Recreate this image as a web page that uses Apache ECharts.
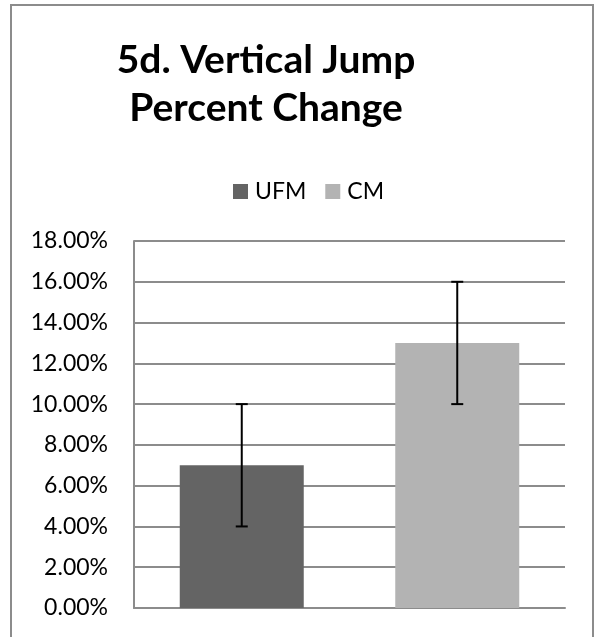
<!DOCTYPE html>
<html>
<head>
<meta charset="utf-8">
<script src="https://cdn.jsdelivr.net/npm/echarts@6/dist/echarts.min.js"></script>
<style>
html,body{margin:0;padding:0;background:#fff;}
#c{width:595px;height:637px;}
</style>
</head>
<body>
<div id="c"></div>
<script>
var titleText = '5d. Vertical Jump\nPercent Change';
var categories = ['UFM', 'CM'];
var seriesNames = ['UFM', 'CM'];
var ufmValues = [0.07, null];
var cmValues = [null, 0.13];
var errLow = [0.04, 0.10];
var errHigh = [0.10, 0.16];
var yTicks = { min: 0, max: 0.18, interval: 0.02 };

var chart = echarts.init(document.getElementById('c'), null, {renderer: 'canvas'});
var fontFam = 'Lato, "Open Sans", sans-serif';

var errData = categories.map(function (c, i) { return [i, errLow[i], errHigh[i]]; });

chart.setOption({
  animation: false,
  backgroundColor: '#fff',
  graphic: [
    { type: 'rect', shape: { x: 11, y: 5, width: 582, height: 700 }, style: { fill: 'none', stroke: '#8c8c8c', lineWidth: 2 }, silent: true, z: 100 },
    { type: 'text', x: 266, y: 36, style: { text: titleText, fill: '#000', font: 'bold 39px ' + fontFam, textAlign: 'center', lineHeight: 48 } }
  ],
  legend: {
    data: seriesNames,
    left: 228, top: 175,
    itemWidth: 15, itemHeight: 15, itemGap: 19,
    icon: 'rect',
    textStyle: { fontFamily: fontFam, fontSize: 23, color: '#000', padding: [0, 0, 0, 2] }
  },
  grid: { left: 134, right: 30, top: 241, bottom: 29, containLabel: false },
  xAxis: {
    type: 'category', data: categories,
    axisLine: { lineStyle: { color: '#8c8c8c', width: 2 } },
    axisTick: { show: false },
    axisLabel: { show: false }
  },
  yAxis: {
    type: 'value', min: yTicks.min, max: yTicks.max, interval: yTicks.interval,
    axisLine: { show: true, lineStyle: { color: '#8c8c8c', width: 2 } },
    axisTick: { show: false },
    splitLine: { lineStyle: { color: '#8c8c8c', width: 2 } },
    axisLabel: { fontFamily: fontFam, fontSize: 23, color: '#000', margin: 26,
      formatter: function (v) { return (v * 100).toFixed(2) + '%'; } }
  },
  series: [
    { name: 'UFM', type: 'bar', stack: 's', data: ufmValues, barWidth: 124, itemStyle: { color: '#646464' } },
    { name: 'CM', type: 'bar', stack: 's', data: cmValues, barWidth: 124, itemStyle: { color: '#b3b3b3' } },
    { name: 'err', type: 'custom', data: errData, z: 10,
      renderItem: function (params, api) {
        var x = api.value(0);
        var lo = api.coord([x, api.value(1)]);
        var hi = api.coord([x, api.value(2)]);
        var cw = 6;
        var st = { stroke: '#000', lineWidth: 2 };
        return { type: 'group', children: [
          { type: 'line', shape: { x1: lo[0], y1: lo[1], x2: hi[0], y2: hi[1] }, style: st },
          { type: 'line', shape: { x1: lo[0] - cw, y1: lo[1], x2: lo[0] + cw, y2: lo[1] }, style: st },
          { type: 'line', shape: { x1: hi[0] - cw, y1: hi[1], x2: hi[0] + cw, y2: hi[1] }, style: st }
        ] };
      }
    }
  ]
});
</script>
</body>
</html>
